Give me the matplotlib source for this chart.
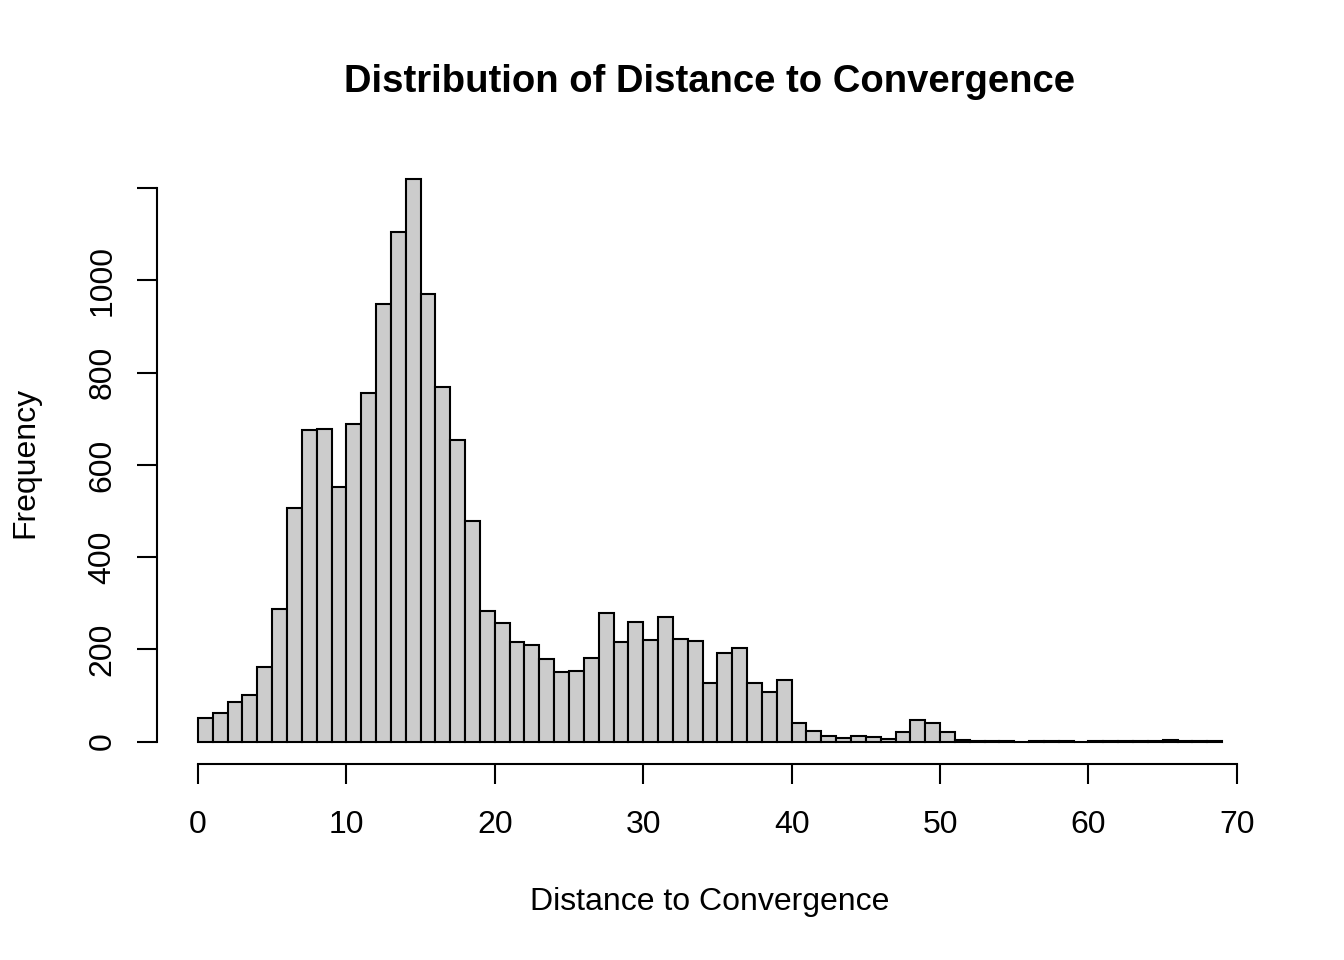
import numpy as np
import matplotlib
matplotlib.use("Agg")
import matplotlib.pyplot as plt

# histogram bins (width 1) and counts
bin_edges = list(range(0, 69))
counts = [50, 61, 85, 100, 162, 288, 507, 675, 677, 551,
          688, 755, 950, 1106, 1219, 970, 768, 653, 479, 282,
          256, 215, 210, 178, 150, 152, 182, 278, 215, 260,
          221, 269, 223, 217, 128, 191, 202, 126, 108, 134,
          40, 22, 12, 7, 12, 9, 5, 21, 46, 40,
          20, 3, 1, 2, 1, 0, 1, 2, 1, 0,
          1, 2, 1, 1, 2, 3, 1, 2, 2]
x_ticks = [0, 10, 20, 30, 40, 50, 60, 70]
y_ticks = [0, 200, 400, 600, 800, 1000, 1200]
y_labels = ["0", "200", "400", "600", "800", "1000", ""]

plt.rcParams['font.family'] = ['Liberation Sans', 'DejaVu Sans']

fig = plt.figure(figsize=(13.44, 9.6), dpi=100)
ax = fig.add_axes([157/1344, 1 - 764/960, (1263 - 157)/1344, (764 - 157)/960])

ax.bar(bin_edges, counts, width=1, align='edge', color='#CCCCCC',
       edgecolor='black', linewidth=1.5)

xmax = bin_edges[-1] + 1
ymax = max(counts)
ax.set_xlim(-0.04 * xmax, xmax * 1.04)
ax.set_ylim(-0.04 * ymax, ymax * 1.04)

for s in ['top', 'right']:
    ax.spines[s].set_visible(False)
ax.spines['bottom'].set_bounds(0, 70)
ax.spines['left'].set_bounds(0, 1200)
for s in ['bottom', 'left']:
    ax.spines[s].set_linewidth(1.5)

ax.set_xticks(x_ticks)
ax.set_yticks(y_ticks)
ax.set_yticklabels(y_labels, rotation=90, va='center')
ax.tick_params(axis='both', direction='out', length=14.4, width=1.5,
               labelsize=23)
ax.tick_params(axis='x', pad=19)
ax.tick_params(axis='y', pad=14)

fig.text(710/1344, 1 - 82/960, "Distribution of Distance to Convergence",
         ha='center', va='center', fontsize=27.5, fontweight='bold')
fig.text(710/1344, 1 - 902/960, "Distance to Convergence",
         ha='center', va='center', fontsize=23)
fig.text(25/1344, 1 - 462/960, "Frequency", rotation=90,
         ha='center', va='center', fontsize=23)

fig.savefig("out.png", dpi=100)
